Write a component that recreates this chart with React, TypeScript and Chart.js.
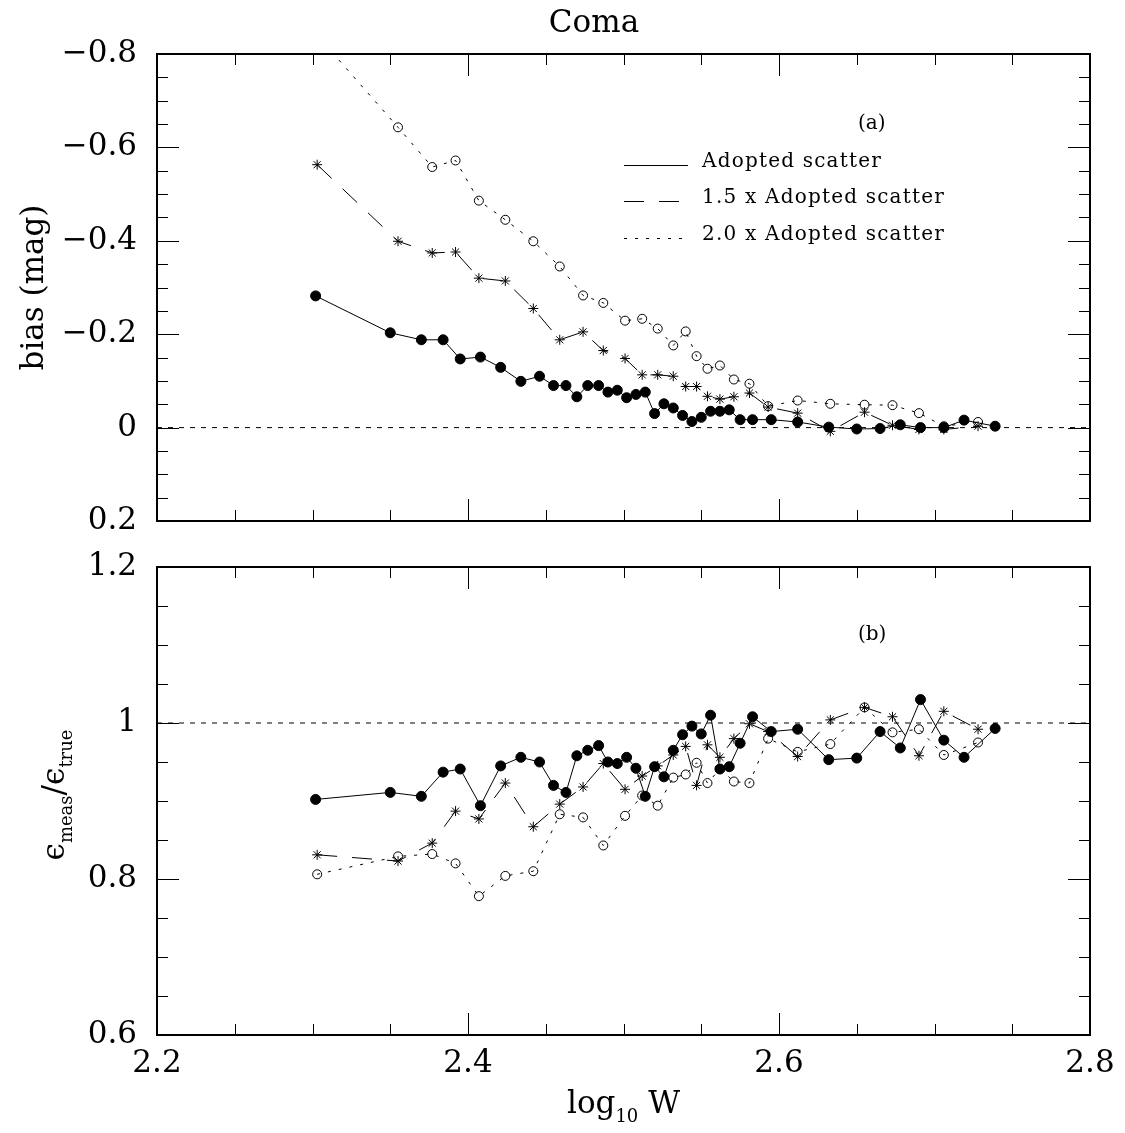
import React, { useEffect, useRef } from 'react';
import { Chart, registerables } from 'chart.js';

Chart.register(...registerables);

// ---------------- data ----------------
const X_ADOPTED = [
  2.302, 2.350, 2.370, 2.384, 2.395, 2.408, 2.421, 2.434, 2.446, 2.455,
  2.463, 2.470, 2.477, 2.484, 2.490, 2.496, 2.502, 2.508, 2.514, 2.520,
  2.526, 2.532, 2.538, 2.544, 2.550, 2.556, 2.562, 2.568, 2.575, 2.583,
  2.595, 2.612, 2.632, 2.650, 2.665, 2.678, 2.691, 2.706, 2.719, 2.739,
];
const BIAS_ADOPTED = [
  -0.282, -0.203, -0.188, -0.188, -0.147, -0.151, -0.129, -0.099, -0.110, -0.090,
  -0.090, -0.066, -0.090, -0.090, -0.076, -0.080, -0.064, -0.071, -0.076, -0.030,
  -0.051, -0.042, -0.026, -0.013, -0.022, -0.035, -0.035, -0.038, -0.017, -0.017,
  -0.017, -0.012, -0.001, 0.003, 0.002, -0.006, 0.000, 0.000, -0.016, -0.003,
];
const RATIO_ADOPTED = [
  0.902, 0.911, 0.906, 0.937, 0.941, 0.894, 0.945, 0.956, 0.950, 0.920,
  0.911, 0.958, 0.965, 0.971, 0.950, 0.948, 0.956, 0.942, 0.906, 0.944,
  0.931, 0.965, 0.985, 0.996, 0.986, 1.010, 0.941, 0.944, 0.974, 1.008,
  0.989, 0.992, 0.953, 0.955, 0.989, 0.968, 1.030, 0.978, 0.956, 0.993,
];
const X_SCALED = [
  2.303, 2.355, 2.377, 2.392, 2.407, 2.424, 2.442, 2.459, 2.474, 2.487,
  2.501, 2.512, 2.522, 2.532, 2.540, 2.547, 2.554, 2.562, 2.571, 2.581,
  2.593, 2.612, 2.633, 2.655, 2.673, 2.690, 2.706, 2.728,
];
const BIAS_1_5 = [
  -0.563, -0.399, -0.374, -0.376, -0.320, -0.314, -0.255, -0.188, -0.205, -0.165,
  -0.148, -0.113, -0.113, -0.110, -0.088, -0.088, -0.067, -0.061, -0.066, -0.074,
  -0.044, -0.031, 0.008, -0.033, -0.005, 0.004, 0.004, -0.003,
];
const BIAS_2_0 = [
  -0.840, -0.643, -0.558, -0.572, -0.486, -0.445, -0.399, -0.345, -0.283, -0.267,
  -0.229, -0.233, -0.212, -0.176, -0.206, -0.153, -0.126, -0.133, -0.103, -0.094,
  -0.046, -0.058, -0.051, -0.049, -0.048, -0.031, -0.003, -0.012,
];
const RATIO_1_5 = [
  0.831, 0.823, 0.846, 0.887, 0.877, 0.923, 0.867, 0.896, 0.918, 0.948,
  0.915, 0.932, 0.945, 0.959, 0.970, 0.920, 0.972, 0.956, 0.980, 0.999,
  0.989, 0.957, 1.004, 1.020, 1.008, 0.958, 1.015, 0.992,
];
const RATIO_2_0 = [
  0.806, 0.829, 0.832, 0.820, 0.778, 0.804, 0.810, 0.883, 0.879, 0.843,
  0.881, 0.907, 0.894, 0.930, 0.934, 0.949, 0.923, 0.941, 0.925, 0.923,
  0.980, 0.963, 0.973, 1.020, 0.988, 0.992, 0.959, 0.975,
];

const X_RANGE = [2.2, 2.8];
const BIAS_RANGE = [-0.8, 0.2];
const RATIO_RANGE = [0.6, 1.2];
const X_TICKS = [2.2, 2.4, 2.6, 2.8];
const BIAS_TICKS = [-0.8, -0.6, -0.4, -0.2, 0, 0.2];
const RATIO_TICKS = [0.6, 0.8, 1, 1.2];
const BIAS_REF = 0;
const RATIO_REF = 1;
const SERIES_LABELS = ['Adopted scatter', '1.5 x Adopted scatter', '2.0 x Adopted scatter'];
const TITLE = 'Coma';
const PANEL_TAGS = ['(a)', '(b)'];

// ---------------- style ----------------
const FONT = '"DejaVu Serif", "Liberation Serif", serif';
const W = 1125;
const TOP_H = 545;
const BOT_H = 588;
const DASH_15 = [20, 15];
const DASH_20 = [3, 8];
const DASH_REF = [5, 6];

const pts = (xs: number[], ys: number[]) => xs.map((x, i) => ({ x, y: ys[i] }));
const fmt = (v: number) => (v < 0 ? '\u2212' + String(Math.abs(v)) : String(v));

function datasets(adopted: number[], s15: number[], s20: number[], ref: number) {
  return [
    {
      label: SERIES_LABELS[0],
      data: pts(X_ADOPTED, adopted),
      borderColor: '#000',
      borderWidth: 1,
      pointStyle: 'circle',
      pointRadius: 5,
      pointBackgroundColor: '#000',
      pointBorderColor: '#000',
      pointBorderWidth: 1,
    },
    {
      label: SERIES_LABELS[1],
      data: pts(X_SCALED, s15),
      borderColor: '#000',
      borderWidth: 1,
      borderDash: DASH_15,
      pointStyle: 'star',
      pointRadius: 5,
      pointBackgroundColor: 'rgba(0,0,0,0)',
      pointBorderColor: '#000',
      pointBorderWidth: 1,
    },
    {
      label: SERIES_LABELS[2],
      data: pts(X_SCALED, s20),
      borderColor: '#000',
      borderWidth: 1,
      borderDash: DASH_20,
      pointStyle: 'circle',
      pointRadius: 4.5,
      pointBackgroundColor: 'rgba(0,0,0,0)',
      pointBorderColor: '#000',
      pointBorderWidth: 1,
    },
    {
      label: 'reference',
      data: [
        { x: X_RANGE[0], y: ref },
        { x: X_RANGE[1], y: ref },
      ],
      borderColor: '#000',
      borderWidth: 1,
      borderDash: DASH_REF,
      pointRadius: 0,
    },
  ];
}

function decorPlugin(yRange: number[], draw: (ctx: CanvasRenderingContext2D, a: any) => void) {
  return {
    id: 'decor',
    afterDraw(chart: any) {
      const { ctx, chartArea: a, scales } = chart;
      const xs = scales.x;
      const ys = scales.y;
      ctx.save();
      ctx.strokeStyle = '#000';
      ctx.lineWidth = 1;
      ctx.setLineDash([]);
      const seg = (x1: number, y1: number, x2: number, y2: number) => {
        ctx.beginPath();
        ctx.moveTo(x1, y1);
        ctx.lineTo(x2, y2);
        ctx.stroke();
      };
      const nx = Math.round((X_RANGE[1] - X_RANGE[0]) / 0.05);
      for (let i = 0; i <= nx; i++) {
        const px = Math.round(xs.getPixelForValue(X_RANGE[0] + i * 0.05)) + 0.5;
        const len = i % 4 === 0 ? 22 : 11;
        seg(px, a.top, px, a.top + len);
        seg(px, a.bottom, px, a.bottom - len);
      }
      const ny = Math.round((yRange[1] - yRange[0]) / 0.05);
      for (let i = 0; i <= ny; i++) {
        const py = Math.round(ys.getPixelForValue(yRange[0] + i * 0.05)) + 0.5;
        const len = i % 4 === 0 ? 22 : 11;
        seg(a.left, py, a.left + len, py);
        seg(a.right, py, a.right - len, py);
      }
      ctx.lineWidth = 2;
      ctx.strokeRect(a.left, a.top, a.right - a.left, a.bottom - a.top);
      ctx.fillStyle = '#000';
      draw(ctx, a);
      ctx.restore();
    },
  };
}

function drawLegend(ctx: CanvasRenderingContext2D) {
  const rows = [
    { y: 167, dash: [] as number[] },
    { y: 203, dash: DASH_15 },
    { y: 240, dash: DASH_20 },
  ];
  ctx.font = `20px ${FONT}`;
  (ctx as any).letterSpacing = '1.2px';
  ctx.textAlign = 'left';
  ctx.textBaseline = 'alphabetic';
  rows.forEach((r, i) => {
    ctx.lineWidth = 1;
    ctx.setLineDash(r.dash);
    ctx.beginPath();
    ctx.moveTo(624, r.y - 1.5);
    ctx.lineTo(688, r.y - 1.5);
    ctx.stroke();
    ctx.setLineDash([]);
    ctx.fillText(SERIES_LABELS[i], 702, r.y);
  });
  (ctx as any).letterSpacing = '0px';
}

function baseOptions(yRange: number[], yTicks: number[], reverse: boolean, showX: boolean, pad: any) {
  return {
    responsive: false,
    animation: false as const,
    devicePixelRatio: 1,
    events: [] as any[],
    layout: { padding: pad },
    plugins: { legend: { display: false }, tooltip: { enabled: false }, title: { display: false } },
    scales: {
      x: {
        type: 'linear' as const,
        min: X_RANGE[0],
        max: X_RANGE[1],
        display: showX,
        grid: { display: false, drawTicks: false },
        border: { display: false },
        afterBuildTicks: (s: any) => {
          s.ticks = X_TICKS.map((v) => ({ value: v }));
        },
        afterFit: (s: any) => {
          s.height = showX ? 98 : 0;
          s.paddingLeft = 0;
          s.paddingRight = 0;
        },
        ticks: {
          autoSkip: false,
          maxRotation: 0,
          padding: 10,
          color: '#000',
          font: { family: FONT, size: 31 },
          callback: (v: any) => fmt(Number(v)),
        },
      },
      y: {
        type: 'linear' as const,
        min: yRange[0],
        max: yRange[1],
        reverse,
        grid: { display: false, drawTicks: false },
        border: { display: false },
        afterBuildTicks: (s: any) => {
          s.ticks = yTicks.map((v) => ({ value: v }));
        },
        afterFit: (s: any) => {
          s.width = 157;
          s.paddingTop = 0;
          s.paddingBottom = 0;
        },
        ticks: {
          autoSkip: false,
          padding: 20,
          color: '#000',
          font: { family: FONT, size: 31 },
          callback: (v: any) => fmt(Number(v)),
        },
      },
    },
  };
}

export default function App() {
  const topRef = useRef<HTMLCanvasElement>(null);
  const botRef = useRef<HTMLCanvasElement>(null);

  useEffect(() => {
    const topPlugin = decorPlugin(BIAS_RANGE, (ctx, a) => {
      ctx.font = `31px ${FONT}`;
      ctx.textAlign = 'center';
      ctx.textBaseline = 'alphabetic';
      ctx.fillText(TITLE, 594, 32);
      // y title
      ctx.save();
      ctx.translate(43, (a.top + a.bottom) / 2);
      ctx.rotate(-Math.PI / 2);
      ctx.font = `31px ${FONT}`;
      ctx.textAlign = 'center';
      ctx.fillText('bias (mag)', 0, 0);
      ctx.restore();
      ctx.font = `20px ${FONT}`;
      ctx.textAlign = 'left';
      ctx.fillText(PANEL_TAGS[0], 858, 129);
      drawLegend(ctx);
    });

    const botPlugin = decorPlugin(RATIO_RANGE, (ctx, a) => {
      ctx.font = `20px ${FONT}`;
      ctx.textAlign = 'left';
      ctx.textBaseline = 'alphabetic';
      ctx.fillText(PANEL_TAGS[1], 858, 640 - TOP_H);

      // y title: ϵ_meas / ϵ_true
      const big = `31px ${FONT}`;
      const small = `18px ${FONT}`;
      const parts = [
        { t: '\u03F5', f: big, dy: 0 },
        { t: 'meas', f: small, dy: 8 },
        { t: '/', f: big, dy: 0 },
        { t: '\u03F5', f: big, dy: 0 },
        { t: 'true', f: small, dy: 8 },
      ];
      ctx.save();
      ctx.translate(64, (a.top + a.bottom) / 2 - 6);
      ctx.rotate(-Math.PI / 2);
      ctx.textAlign = 'left';
      let total = 0;
      parts.forEach((p) => {
        ctx.font = p.f;
        total += ctx.measureText(p.t).width;
      });
      let cx = -total / 2;
      parts.forEach((p) => {
        ctx.font = p.f;
        ctx.fillText(p.t, cx, p.dy);
        cx += ctx.measureText(p.t).width;
      });
      ctx.restore();

      // x title: log10 W
      const xparts = [
        { t: 'log', f: big, dy: 0 },
        { t: '10', f: small, dy: 9 },
        { t: ' W', f: big, dy: 0 },
      ];
      let tw = 0;
      xparts.forEach((p) => {
        ctx.font = p.f;
        tw += ctx.measureText(p.t).width;
      });
      let sx = (a.left + a.right) / 2 - tw / 2;
      const by = 1113 - TOP_H;
      xparts.forEach((p) => {
        ctx.font = p.f;
        ctx.fillText(p.t, sx, by + p.dy);
        sx += ctx.measureText(p.t).width;
      });
    });

    const top = new Chart(topRef.current as HTMLCanvasElement, {
      type: 'line',
      data: { datasets: datasets(BIAS_ADOPTED, BIAS_1_5, BIAS_2_0, BIAS_REF) as any },
      options: baseOptions(BIAS_RANGE, BIAS_TICKS, true, false, { top: 54, bottom: 24, left: 0, right: 35 }) as any,
      plugins: [topPlugin as any],
    });
    const bot = new Chart(botRef.current as HTMLCanvasElement, {
      type: 'line',
      data: { datasets: datasets(RATIO_ADOPTED, RATIO_1_5, RATIO_2_0, RATIO_REF) as any },
      options: baseOptions(RATIO_RANGE, RATIO_TICKS, false, true, { top: 22, bottom: 0, left: 0, right: 35 }) as any,
      plugins: [botPlugin as any],
    });
    return () => {
      top.destroy();
      bot.destroy();
    };
  }, []);

  return (
    <div style={{ position: 'absolute', left: 0, top: 0, width: W, height: TOP_H + BOT_H, background: '#fff' }}>
      <canvas ref={topRef} width={W} height={TOP_H} style={{ position: 'absolute', left: 0, top: 0, width: W, height: TOP_H }} />
      <canvas ref={botRef} width={W} height={BOT_H} style={{ position: 'absolute', left: 0, top: TOP_H, width: W, height: BOT_H }} />
    </div>
  );
}
